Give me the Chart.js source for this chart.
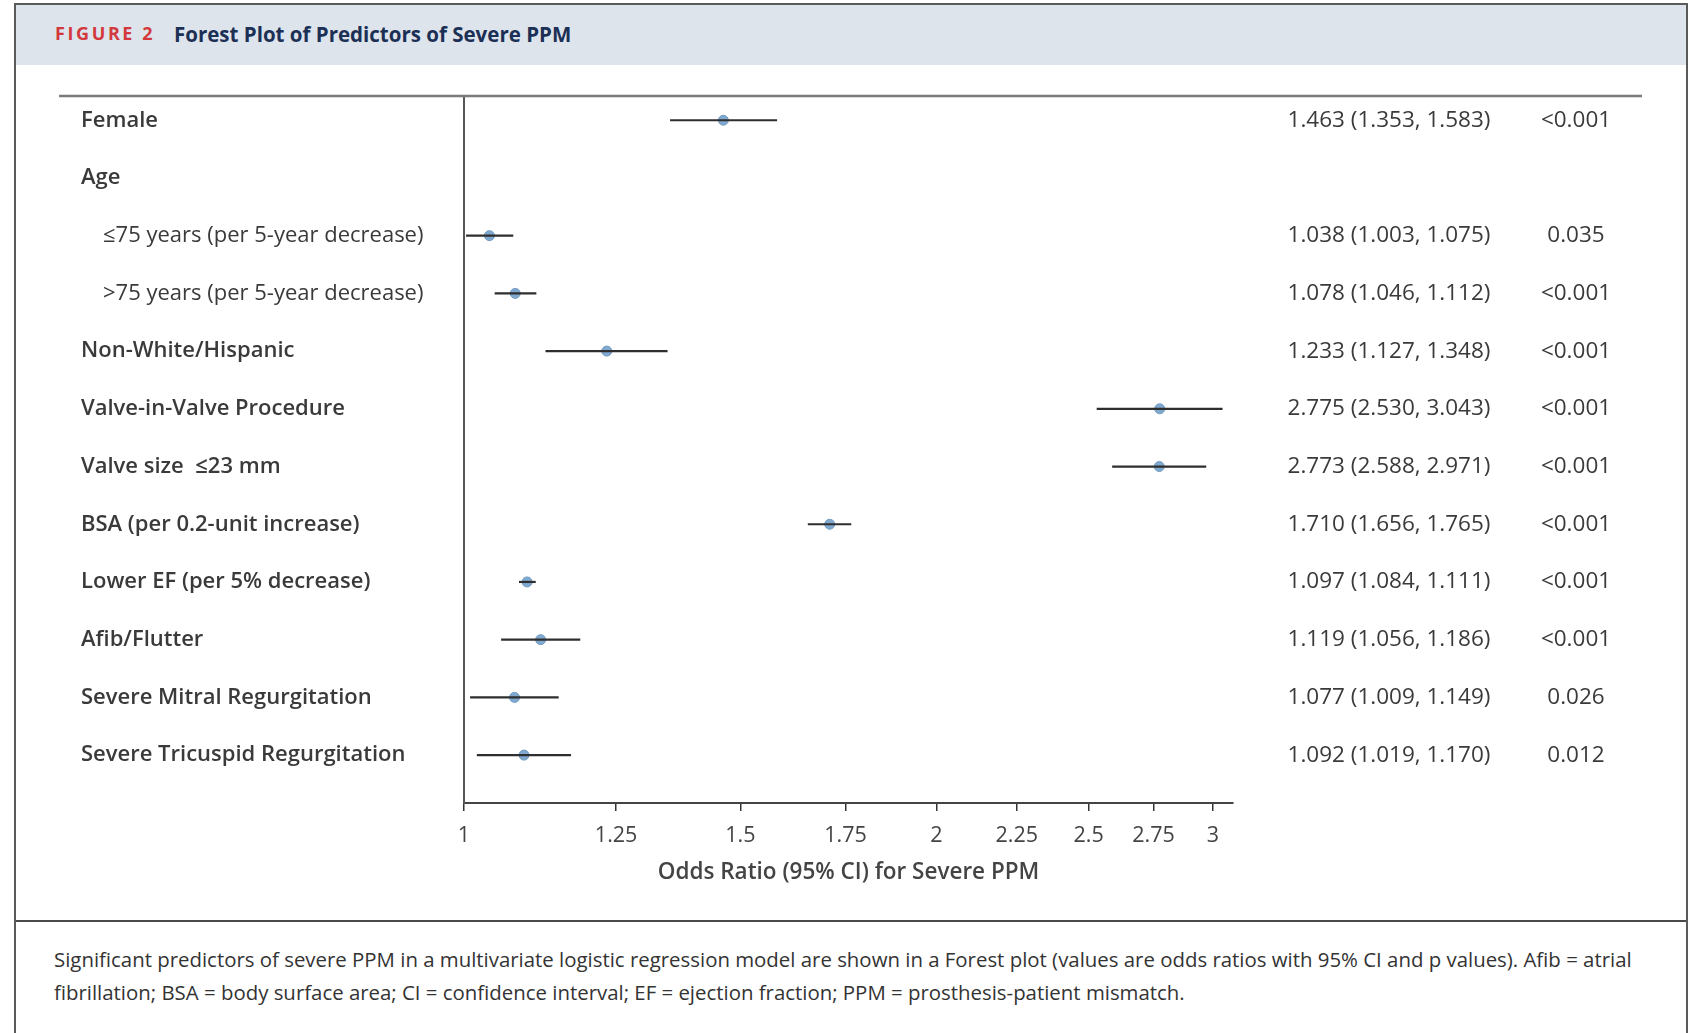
<!DOCTYPE html>
<html>
<head>
<meta charset="utf-8">
<script src="https://cdn.jsdelivr.net/npm/chart.js@4.4.1/dist/chart.umd.min.js"></script>
<style>
  html, body { margin: 0; padding: 0; background: #fff; }
  body { width: 1691px; height: 1033px; position: relative; overflow: hidden; font-family: "Open Sans", "Noto Sans", sans-serif; }
  #frame { position: absolute; left: 14px; top: 3px; width: 1670px; height: 1100px; border: 2px solid #5a5a5a; border-bottom: none; }
  #header { position: absolute; left: 0; top: 0; right: 0; height: 60px; background: #dde4ec; }
  #header .tag { position: absolute; left: 39px; top: 16px; color: #d2383c; font-weight: 700; font-size: 18px; letter-spacing: 2.6px; }
  #header .title { position: absolute; left: 158px; top: 15px; color: #1c2f55; font-weight: 700; font-size: 20.5px; }
  #sep { position: absolute; left: 0; right: 0; top: 915px; border-top: 2px solid #4a4a4a; }
  #caption { position: absolute; left: 38px; top: 938px; color: #333; font-size: 20.4px; line-height: 33px; white-space: nowrap; }
  #chart { position: absolute; left: 0; top: 63px; }
</style>
</head>
<body>
<div id="frame">
  <div id="header"><span class="tag">FIGURE 2</span><span class="title">Forest Plot of Predictors of Severe PPM</span></div>
  <div id="sep"></div>
  <div id="caption">Significant predictors of severe PPM in a multivariate logistic regression model are shown in a Forest plot (values are odds ratios with 95% CI and p values). Afib = atrial<br>fibrillation; BSA = body surface area; CI = confidence interval; EF = ejection fraction; PPM = prosthesis-patient mismatch.</div>
</div>
<canvas id="chart" width="1691" height="856"></canvas>
<script>
// rows of the forest plot, top to bottom
const labels = [
  "Female", "Age", "≤75 years (per 5-year decrease)", ">75 years (per 5-year decrease)",
  "Non-White/Hispanic", "Valve-in-Valve Procedure", "Valve size  ≤23 mm", "BSA (per 0.2-unit increase)",
  "Lower EF (per 5% decrease)", "Afib/Flutter", "Severe Mitral Regurgitation", "Severe Tricuspid Regurgitation"
];
const subRows = [2, 3]; // indented under "Age"
const oddsRatio = [1.463, null, 1.038, 1.078, 1.233, 2.775, 2.773, 1.710, 1.097, 1.119, 1.077, 1.092];
const ciLow = [1.353, null, 1.003, 1.046, 1.127, 2.530, 2.588, 1.656, 1.084, 1.056, 1.009, 1.019];
const ciHigh = [1.583, null, 1.075, 1.112, 1.348, 3.043, 2.971, 1.765, 1.111, 1.186, 1.149, 1.170];
const pValues = ["<0.001", "", "0.035", "<0.001", "<0.001", "<0.001", "<0.001", "<0.001", "<0.001", "<0.001", "0.026", "0.012"];
const xTicks = [1, 1.25, 1.5, 1.75, 2, 2.25, 2.5, 2.75, 3];

const FONT = '"Open Sans", "Noto Sans", sans-serif';

// CI whiskers: one short line per row
const ciSets = [];
labels.forEach((_, i) => {
  if (oddsRatio[i] == null) return;
  ciSets.push({
    type: "line",
    data: [{ x: ciLow[i], y: i }, { x: ciHigh[i], y: i }],
    borderColor: "#2e2e2e",
    borderWidth: 2.2,
    pointRadius: 0,
    fill: false
  });
});

const pointSet = {
  type: "scatter",
  data: labels.map((_, i) => ({ x: oddsRatio[i], y: oddsRatio[i] == null ? null : i })),
  backgroundColor: "#80a9cf",
  borderColor: "#719bc2",
  borderWidth: 1,
  pointRadius: 5
};

// top rule and the estimate / p value columns
const tablePlugin = {
  id: "table",
  afterDraw(chart) {
    const ctx = chart.ctx;
    const y = chart.scales.y;
    ctx.save();
    ctx.strokeStyle = "#7a7a7a";
    ctx.lineWidth = 2.5;
    ctx.beginPath();
    ctx.moveTo(59, chart.chartArea.top);
    ctx.lineTo(1642, chart.chartArea.top);
    ctx.stroke();

    ctx.fillStyle = "#3a3a3a";
    ctx.font = "22.5px " + FONT;
    ctx.textAlign = "center";
    ctx.textBaseline = "middle";
    labels.forEach((_, i) => {
      if (oddsRatio[i] == null) return;
      const py = y.getPixelForValue(i);
      const txt = `${oddsRatio[i].toFixed(3)} (${ciLow[i].toFixed(3)}, ${ciHigh[i].toFixed(3)})`;
      ctx.fillText(txt, 1389, py);
      ctx.fillText(pValues[i], 1576, py);
    });
    ctx.restore();
  }
};

new Chart(document.getElementById("chart"), {
  data: { datasets: [...ciSets, pointSet] },
  options: {
    responsive: false,
    animation: false,
    layout: { padding: { left: 81, top: 33, right: 458, bottom: 0 } },
    plugins: { legend: { display: false }, tooltip: { enabled: false } },
    scales: {
      x: {
        type: "logarithmic",
        min: 1,
        max: 3.09,
        afterBuildTicks: (s) => { s.ticks = xTicks.map(v => ({ value: v })); },
        afterFit: (s) => { s.height = 116; },
        ticks: {
          callback: (v) => String(v),
          color: "#444",
          font: { family: FONT, size: 21.5 },
          padding: 12,
          maxRotation: 0,
          autoSkip: false
        },
        grid: { drawOnChartArea: false, drawTicks: true, tickLength: 8, color: "#333", lineWidth: 1.5 },
        border: { color: "#444", width: 2 },
        title: {
          display: true,
          text: "Odds Ratio (95% CI) for Severe PPM",
          color: "#444",
          font: { family: FONT, size: 22.5, weight: 600 },
          padding: { top: 4, bottom: 33 }
        }
      },
      y: {
        type: "linear",
        reverse: true,
        min: -0.42,
        max: 11.83,
        afterBuildTicks: (s) => { s.ticks = labels.map((_, i) => ({ value: i })); },
        afterFit: (s) => { s.width = 383; },
        ticks: {
          callback: (v) => (subRows.includes(v) ? "\u2003" : "") + labels[v],
          crossAlign: "far",
          color: "#3a3a3a",
          font: (c) => ({ family: FONT, size: 22, weight: subRows.includes(c.index) ? 400 : 600 }),
          autoSkip: false
        },
        grid: { display: false },
        border: { color: "#555", width: 2 }
      }
    }
  },
  plugins: [tablePlugin]
});
</script>
</body>
</html>
